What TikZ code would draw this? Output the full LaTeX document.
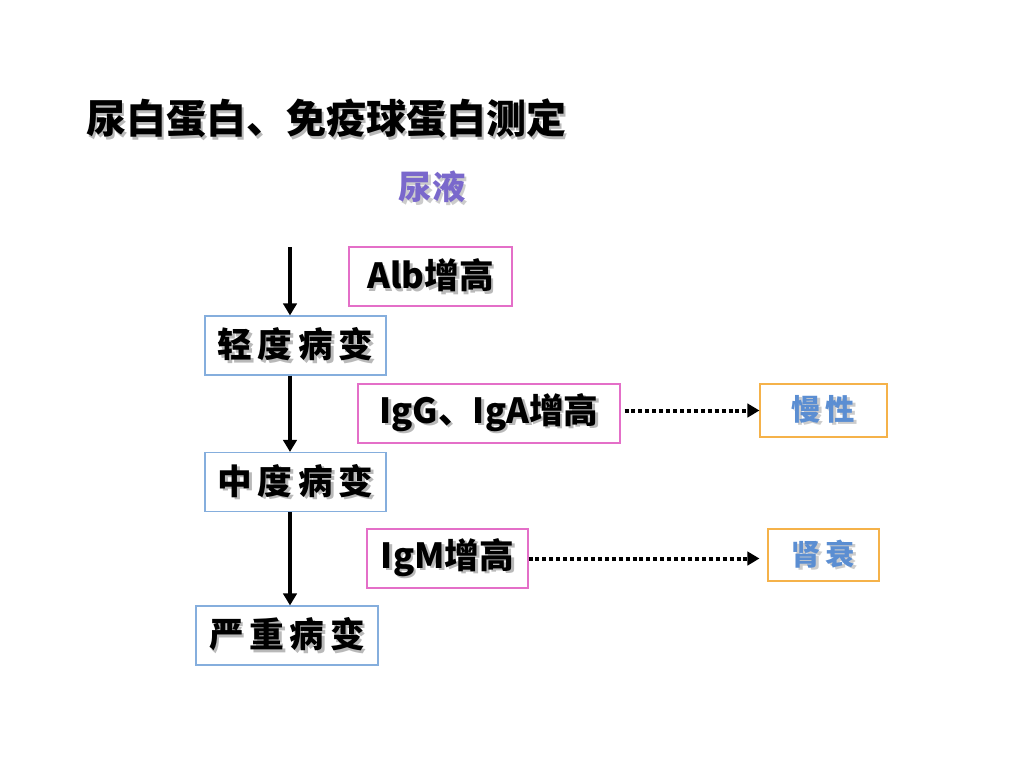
\documentclass[tikz,border=0pt]{standalone}
\usepackage{fontspec}
\setmainfont{Noto Sans CJK SC}
\usetikzlibrary{arrows.meta}
\definecolor{pinkb}{HTML}{E46FC8}
\definecolor{blueb}{HTML}{85AEDD}
\definecolor{orangeb}{HTML}{F5B24A}
\definecolor{purplet}{HTML}{7A68CC}
\definecolor{bluet}{HTML}{5B8ED2}
\newcommand\shtxt[2][gray!55]{\rlap{\raisebox{-2pt}{\hspace{2pt}\textcolor{#1}{#2}}}#2}
\begin{document}
\begin{tikzpicture}[x=0.75pt,y=-0.75pt,
  box/.style={draw,line width=0.8pt,inner sep=0pt,font=\bfseries\fontsize{26}{30}\selectfont},
  stagebox/.style={box,draw=blueb,minimum width=181*0.75pt,minimum height=59*0.75pt},
  markbox/.style={box,draw=pinkb,minimum height=59*0.75pt},
  outbox/.style={box,draw=orangeb,text=bluet,font=\bfseries\fontsize{22}{26}\selectfont},
  flow/.style={line width=3pt,-{Triangle[length=9pt,width=10pt]}},
  dotflow/.style={line width=3pt,dash pattern=on 3pt off 2.2pt,-{Triangle[length=9pt,width=10pt]}}]
\useasboundingbox (0,0) rectangle (1024,768);
\node[font=\bfseries\fontsize{30}{34}\selectfont] (title) at (326,120) {\shtxt{尿白蛋白、免疫球蛋白测定}};
\node[text=purplet,font=\bfseries\fontsize{25}{28}\selectfont] (urine) at (432,188) {\shtxt[gray!40]{尿液}};
\coordinate (top) at (290,247);
\node[stagebox] (b1) at (295.5,345.5) {\shtxt{轻\,度\,病\,变}};
\node[stagebox] (b2) at (295.5,482) {\shtxt{中\,度\,病\,变}};
\node[stagebox,minimum width=182*0.75pt] (b3) at (287,635.5) {\shtxt{严\,重\,病\,变}};
\node[markbox,minimum width=163*0.75pt] (a1) at (430.5,276.5) {\shtxt{Alb增高}};
\node[markbox,minimum width=262*0.75pt] (a2) at (489,413.5) {\shtxt{IgG、IgA增高}};
\node[markbox,minimum width=161*0.75pt] (a3) at (447.5,558.5) {\shtxt{IgM增高}};
\node[outbox,minimum width=127*0.75pt,minimum height=53*0.75pt] (c1) at (823.5,410.5) {\shtxt[gray!40]{慢\,性}};
\node[outbox,minimum width=111*0.75pt,minimum height=52*0.75pt] (c2) at (823.5,555) {\shtxt[gray!40]{肾\,衰}};
\draw[flow] (top) -- (top |- b1.north);
\draw[flow] (b1.south -| top) -- (b2.north -| top);
\draw[flow] (b2.south -| top) -- (b3.north -| top);
\draw[dotflow,shorten <=3pt] (a2.east |- c1.west) -- (c1.west);
\draw[dotflow,shorten >=6pt] (a3.east) -- (a3.east -| c2.west);
\end{tikzpicture}
\end{document}
